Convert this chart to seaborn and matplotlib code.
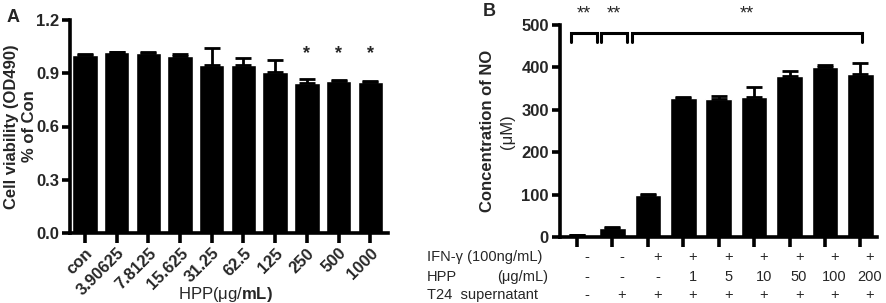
import numpy as np
import matplotlib
matplotlib.use("Agg")
import matplotlib.pyplot as plt
import matplotlib.transforms as mtransforms
import seaborn as sns

# panel A data
doses_A = ["con", "3.90625", "7.8125", "15.625", "31.25", "62.5", "125", "250", "500", "1000"]
viability = [1.003, 1.018, 1.012, 1.0, 0.946, 0.946, 0.909, 0.845, 0.856, 0.85]
viability_err = [0.004, 0.003, 0.006, 0.006, 0.098, 0.039, 0.066, 0.025, 0.006, 0.006]
starred_A = ["250", "500", "1000"]

# panel B data
groups_B = ["g1", "g2", "g3", "g4", "g5", "g6", "g7", "g8", "g9"]
no_conc = [5, 21, 100, 327, 325, 330, 380, 400, 385]
no_err = [1, 3, 3, 4, 8, 23, 12, 6, 26]
row_ifn = ["-", "-", "+", "+", "+", "+", "+", "+", "+"]
row_hpp = ["-", "-", "-", "1", "5", "10", "50", "100", "200"]
row_t24 = ["-", "+", "+", "+", "+", "+", "+", "+", "+"]
row_names = ["IFN-\u03b3 (100ng/mL)", "HPP", "T24  supernatant"]
# brackets (x0, x1) in bar units
brackets = [(-0.17, 0.56), (0.68, 1.41), (1.55, 8.05)]

sns.set_style("ticks")
plt.rcParams["font.family"] = ["Liberation Sans", "DejaVu Sans"]
plt.rcParams["mathtext.fontset"] = "custom"
plt.rcParams["mathtext.rm"] = "Liberation Sans"
plt.rcParams["mathtext.bf"] = "Liberation Sans:bold"

fig = plt.figure(figsize=(8.86, 3.03), dpi=100)
axA = fig.add_axes([70 / 886, 70 / 303, 318 / 886, 213 / 303])
axB = fig.add_axes([560 / 886, 65.7 / 303, 317 / 886, 212.3 / 303])

lw = 2.6

def style_axes(ax):
    for s in ["top", "right"]:
        ax.spines[s].set_visible(False)
    for s in ["left", "bottom"]:
        ax.spines[s].set_linewidth(lw)
        ax.spines[s].set_color("black")
    ax.tick_params(axis="both", width=lw, length=6, color="black", pad=2)
    ax.tick_params(axis="x", length=7)
    ax.set_xlabel("")
    ax.set_ylabel("")

# ---- panel A ----
sns.barplot(x=doses_A, y=viability, color="black", saturation=1, width=0.8,
            errorbar=None, ax=axA)
xa = np.arange(len(doses_A))
axA.errorbar(xa, viability, yerr=[np.zeros(len(xa)), viability_err], fmt="none",
             ecolor="black", elinewidth=2, capsize=6, capthick=2)
axA.set_xlim(-0.47, 9.56)
axA.set_ylim(0, 1.2)
axA.set_yticks([0, 0.3, 0.6, 0.9, 1.2])
axA.set_yticklabels(["0.0", "0.3", "0.6", "0.9", "1.2"], fontsize=12, fontweight="bold")
axA.set_xticks(xa)
axA.set_xticklabels(doses_A, rotation=45, ha="right", rotation_mode="anchor",
                    fontsize=12, fontweight="bold")
style_axes(axA)
for lab in starred_A:
    i = doses_A.index(lab)
    axA.text(i, 0.965, "*", ha="center", va="bottom", fontsize=13, fontweight="bold")
axA.text(0.49, -0.29, r"HPP(μg/$\mathbf{mL)}$", transform=axA.transAxes,
         ha="center", va="center", fontsize=12)
axA.text(-0.183, 0.5, "Cell viability (OD490)", transform=axA.transAxes, rotation=90,
         ha="center", va="center", fontsize=12, fontweight="bold")
axA.text(-0.128, 0.5, "% of Con", transform=axA.transAxes, rotation=90,
         ha="center", va="center", fontsize=12, fontweight="bold")
fig.text(13 / 886, 1 - 17 / 303, "A", ha="center", va="center", fontsize=13, fontweight="bold")

# ---- panel B ----
sns.barplot(x=groups_B, y=no_conc, color="black", saturation=1, width=0.75,
            errorbar=None, ax=axB)
xb = np.arange(len(groups_B))
axB.errorbar(xb, no_conc, yerr=[np.zeros(len(xb)), no_err], fmt="none",
             ecolor="black", elinewidth=2, capsize=6, capthick=2)
axB.set_xlim(-0.48, 8.47)
axB.set_ylim(0, 500)
axB.set_yticks([0, 100, 200, 300, 400, 500])
axB.set_yticklabels(["0", "100", "200", "300", "400", "500"], fontsize=12, fontweight="bold")
axB.set_xticks(xb)
axB.set_xticklabels([""] * len(xb))
style_axes(axB)

trans = mtransforms.blended_transform_factory(axB.transData, axB.transAxes)
for rows, yy in zip([row_ifn, row_hpp, row_t24], [-0.093, -0.187, -0.27]):
    for i, s in enumerate(rows):
        axB.text(i + 0.27, yy, s, transform=trans, ha="center", va="center", fontsize=10.5)
axB.text(-4.24, -0.093, row_names[0], transform=trans, ha="left", va="center", fontsize=10.5)
axB.text(-4.24, -0.187, row_names[1], transform=trans, ha="left", va="center", fontsize=10.5)
axB.text(-2.26, -0.187, "(μg/mL)", transform=trans, ha="left", va="center", fontsize=10.5)
axB.text(-4.24, -0.27, row_names[2], transform=trans, ha="left", va="center", fontsize=10.5)

for x0, x1 in brackets:
    axB.plot([x0, x0, x1, x1], [460, 481, 481, 460], color="black", lw=2.2,
             clip_on=False, solid_joinstyle="miter")
    axB.text((x0 + x1) / 2, 1.05, "**", transform=trans, ha="center", va="center",
             fontsize=13)

axB.text(-0.23, 0.5, "Concentration of NO", transform=axB.transAxes, rotation=90,
         ha="center", va="center", fontsize=12, fontweight="bold")
axB.text(-0.165, 0.5, "(μM)", transform=axB.transAxes, rotation=90,
         ha="center", va="center", fontsize=12)
fig.text(489 / 886, 1 - 11 / 303, "B", ha="center", va="center", fontsize=13, fontweight="bold")

fig.savefig("out.png", dpi=100)
